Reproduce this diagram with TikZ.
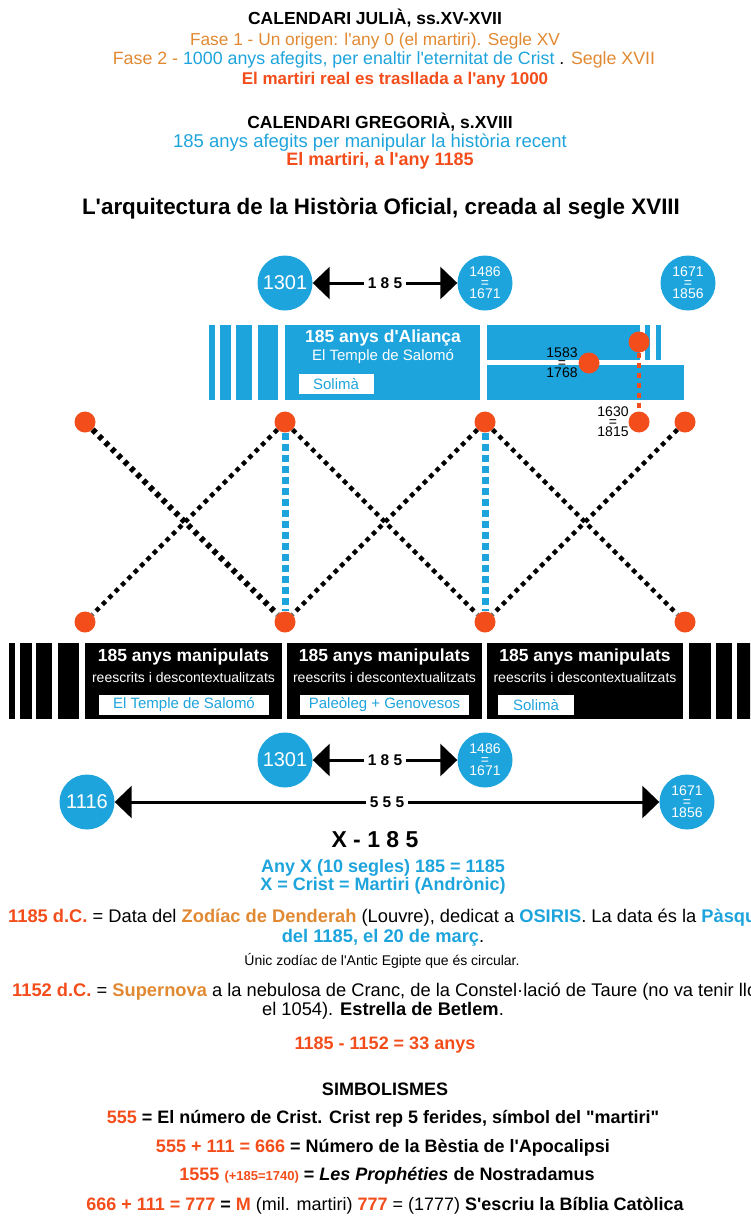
\documentclass[tikz,border=0pt]{standalone}
\usepackage{fontspec}
\defaultfontfeatures[\rmfamily]{}
\setmainfont{Liberation Sans}
\usepackage{xcolor}
\usetikzlibrary{arrows.meta,positioning,calc}
\definecolor{cblue}{RGB}{30,164,220}
\definecolor{cred}{RGB}{243,77,27}
\definecolor{corange}{RGB}{225,137,50}
\newcommand{\sz}[1]{\fontsize{#1}{#1}\selectfont}

\begin{document}
\begin{tikzpicture}[x=1pt,y=-1pt,
  txt/.style={inner sep=0pt,anchor=mid},
  year node/.style={circle,fill=cblue,text=white,minimum size=55pt,inner sep=0pt,font=\sz{20}},
  pair node/.style={year node,align=center,font=\fontsize{14}{11}\selectfont},
  dot node/.style={circle,fill=cred,minimum size=21pt,inner sep=0pt},
  spanarrow/.style={{Triangle[length=17pt,width=32pt]}-{Triangle[length=17pt,width=32pt]},line width=3pt},
  span label/.style={fill=white,inner xsep=4pt,inner ysep=1pt,font=\bfseries\sz{15.5}},
  crossline/.style={dash pattern=on 4.5pt off 4.5pt,line width=4.5pt},
  bluelink/.style={cblue,dash pattern=on 7pt off 4pt,line width=7pt},
  reddrop/.style={cred,dash pattern=on 5pt off 5pt,line width=4pt},
  labelbox/.style={fill=white,inner sep=0pt,minimum height=20pt,font=\sz{15},text=cblue}]
\useasboundingbox (0,0) rectangle (750,1218);
\clip (0,0) rectangle (750,1218);

\node[txt,font=\bfseries\sz{17.5}] (julia) at (375,22) {CALENDARI JULIÀ, ss.XV-XVII};
\node[txt,font=\sz{17.3},text=corange] (fase1) at (375,43) {Fase 1 - Un origen: l'any 0 (el martiri). Segle XV};
\node[txt,font=\sz{17.8}] (fase2) at (384,62) {\textcolor{corange}{Fase 2 -} \textcolor{cblue}{1000 anys afegits, per enaltir l'eternitat de Crist} . \textcolor{corange}{Segle XVII}};
\node[txt,font=\bfseries\sz{17},text=cred] (mil) at (395,82) {El martiri real es trasllada a l'any 1000};
\node[txt,font=\bfseries\sz{17.5}] (gregoria) at (380,126) {CALENDARI GREGORIÀ, s.XVIII};
\node[txt,font=\sz{18.5},text=cblue] (afegits) at (370,145) {185 anys afegits per manipular la història recent};
\node[txt,font=\bfseries\sz{18},text=cred] (mil185) at (380,163) {El martiri, a l'any 1185};
\node[txt,font=\bfseries\sz{22.4}] (titol) at (381,212) {L'arquitectura de la Història Oficial, creada al segle XVIII};

\node[year node] (top1301) at (285,283) {1301};
\node[pair node] (top1486) at (485,283) {1486\\=\\1671};
\node[pair node] (top1671) at (688,283) {1671\\=\\1856};
\draw[spanarrow] (top1301) -- node[span label] {1 8 5} (top1486);

\foreach \a/\b in {209/215,220/231,236/252,258/278}
  \fill[cblue] (\a,325) rectangle (\b,400);
\fill[cblue] (285,325) rectangle (480,400);
\fill[cblue] (487,325) rectangle (640,360);
\foreach \a/\b in {645/650,656/661}
  \fill[cblue] (\a,325) rectangle (\b,360);
\fill[cblue] (487,365) rectangle (684,400);
\node[txt,font=\bfseries\sz{17.5},text=white] (alianca) at (383,340) {185 anys d'Aliança};
\node[txt,font=\sz{15},text=white] (temple) at (383,358) {El Temple de Salomó};
\node[labelbox,minimum width=75pt] (solima) at (336,384) {Solimà};

\foreach \i/\x in {1/85,2/285,3/485,4/685} {
  \node[dot node] (t\i) at (\x,422) {};
  \node[dot node] (b\i) at (\x,622) {};
}
\draw[crossline,line width=6pt] (t1) -- (b2);
\foreach \a/\b in {t2/b1,t2/b3,t3/b2,t3/b4,t4/b3}
  \draw[crossline] (\a) -- (\b);
\foreach \a/\b in {t2/b2,t3/b3}
  \draw[bluelink] (\a) -- (\b);

\node[dot node] (d1583) at (589,363) {};
\node[dot node] (d1630top) at (639,342) {};
\node[dot node] (d1630) at (639,422) {};
\draw[reddrop] (d1630top) -- (d1630);
\node[txt,anchor=center,align=center,font=\fontsize{14}{10}\selectfont] (l1583) at (562,363) {1583\\=\\1768};
\node[txt,anchor=center,align=center,font=\fontsize{14}{10}\selectfont] (l1630) at (613,422) {1630\\=\\1815};

\foreach \a/\b in {9/15,20/32,36/52,58/79,689/711,716/732,737/760}
  \fill (\a,643) rectangle (\b,719);
\foreach \a/\b in {85/282,287/482,487/683}
  \fill (\a,643) rectangle (\b,719);
\foreach \c/\n in {183.5/m1,384.5/m2,585/m3} {
  \node[txt,font=\bfseries\sz{17.5},text=white] (\n head) at (\c,659) {185 anys manipulats};
  \node[txt,font=\sz{14},text=white] (\n sub) at (\c,680) {reescrits i descontextualitzats};
}
\node[labelbox,minimum width=170pt] (salomo) at (184,705) {El Temple de Salomó};
\node[labelbox,minimum width=169pt] (paleoleg) at (384.5,705) {Paleòleg + Genovesos};
\node[labelbox,minimum width=76pt] (solima2) at (536,705) {Solimà};

\node[year node] (low1301) at (285,760) {1301};
\node[pair node] (low1486) at (485,760) {1486\\=\\1671};
\node[year node] (low1116) at (87,802) {1116};
\node[pair node] (low1671) at (687,802) {1671\\=\\1856};
\draw[spanarrow] (low1301) -- node[span label] {1 8 5} (low1486);
\draw[spanarrow] (low1116) -- node[span label] {5 5 5} (low1671);

\node[txt,font=\bfseries\sz{23}] (xform) at (375,845) {X - 1 8 5};
\node[txt,font=\bfseries\sz{18},text=cblue] (anyx) at (383,870) {Any X (10 segles) 185 = 1185};
\node[txt,font=\bfseries\sz{18},text=cblue] (cristx) at (383,888) {X = Crist = Martiri (Andrònic)};
\node[txt,font=\sz{18.3},anchor=west] (zodiac) at (8,918) {\textbf{\textcolor{cred}{1185 d.C.}} = Data del \textbf{\textcolor{corange}{Zodíac de Denderah}} (Louvre), dedicat a \textbf{\textcolor{cblue}{OSIRIS}}. La data és la \textbf{\textcolor{cblue}{Pàsqua}}};
\node[txt,font=\sz{18.3}] (marc) at (383,940) {\textbf{\textcolor{cblue}{del 1185, el 20 de març}}.};
\node[txt,font=\sz{14}] (unic) at (382,963) {Únic zodíac de l'Antic Egipte que és circular.};
\node[txt,font=\sz{18.3},anchor=west] (nova) at (12,992) {\textbf{\textcolor{cred}{1152 d.C.}} = \textbf{\textcolor{corange}{Supernova}} a la nebulosa de Cranc, de la Constel·lació de Taure (no va tenir lloc};
\node[txt,font=\sz{18.3}] (betlem) at (383,1013) {el 1054). \textbf{Estrella de Betlem}.};
\node[txt,font=\bfseries\sz{18},text=cred] (anys33) at (385,1047) {1185 - 1152 = 33 anys};
\node[txt,font=\bfseries\sz{18}] (simb) at (385,1093) {SIMBOLISMES};
\node[txt,font=\bfseries\sz{18}] (s555) at (383,1121) {\textcolor{cred}{555} = El número de Crist. Crist rep 5 ferides, símbol del "martiri"};
\node[txt,font=\bfseries\sz{18}] (s666) at (383,1150) {\textcolor{cred}{555 + 111 = 666} = Número de la Bèstia de l'Apocalipsi};
\node[txt,font=\bfseries\sz{18}] (s1555) at (387,1178) {\textcolor{cred}{1555 {\sz{13}(+185=1740)}} = \textit{Les Prophéties} de Nostradamus};
\node[txt,font=\sz{18}] (s777) at (385,1208) {\textbf{\textcolor{cred}{666 + 111 = 777}} \textbf{=} \textbf{\textcolor{cred}{M}} (mil. martiri) \textbf{\textcolor{cred}{777}} = (1777) \textbf{S'escriu la Bíblia Catòlica}};
\end{tikzpicture}
\end{document}
